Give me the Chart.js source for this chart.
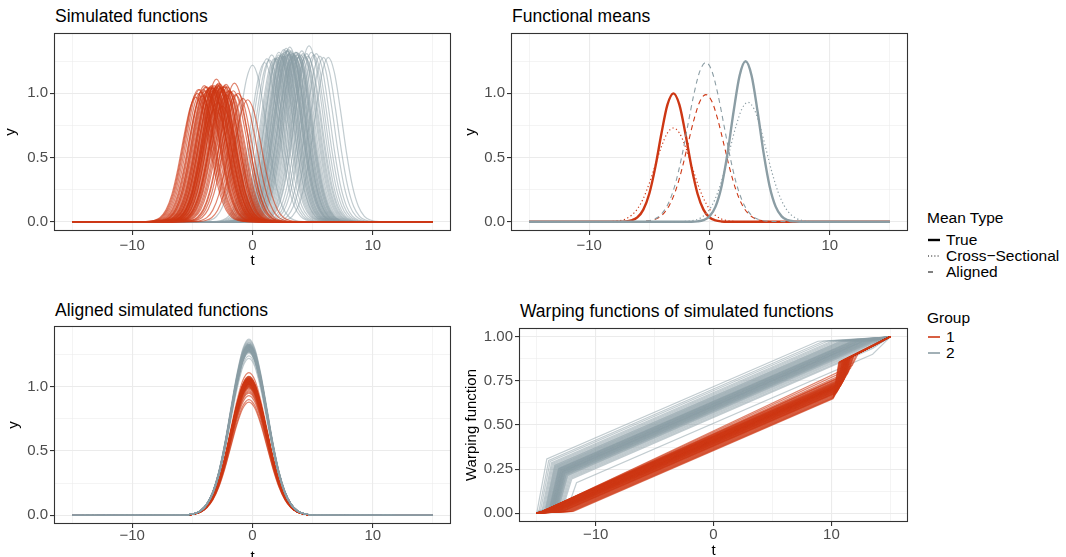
<!DOCTYPE html>
<html>
<head>
<meta charset="utf-8">
<script src="https://cdn.jsdelivr.net/npm/chart.js@4.4.1/dist/chart.umd.min.js"></script>
<style>
  body { margin: 0; width: 1066px; height: 557px; overflow: hidden; background: #fff; position: relative;
         font-family: "Liberation Sans", Arial, sans-serif; }
  canvas { position: absolute; }
  .ttl { position: absolute; font-size: 17.5px; line-height: 20px; color: #000; white-space: nowrap; }
  .lg { position: absolute; left: 927px; font-size: 15.5px; line-height: 18px; color: #000; white-space: nowrap; }
  .lg svg { position: absolute; left: 0; top: 7px; }
  .lg span { position: absolute; left: 19px; }
</style>
</head>
<body>
<div class="ttl" style="left:55px;top:6px">Simulated functions</div>
<div class="ttl" style="left:512px;top:6px">Functional means</div>
<div class="ttl" style="left:55px;top:300px">Aligned simulated functions</div>
<div class="ttl" style="left:520px;top:301px">Warping functions of simulated functions</div>

<canvas id="sim" width="460" height="278" style="left:0;top:0"></canvas>
<canvas id="means" width="460" height="278" style="left:460px;top:0"></canvas>
<canvas id="aligned" width="460" height="300" style="left:0;top:278px"></canvas>
<canvas id="warp" width="460" height="300" style="left:460px;top:278px"></canvas>

<div class="lg" style="top:209px">Mean Type</div>
<div class="lg" style="top:231px"><svg width="14" height="4"><line x1="1" y1="2" x2="13" y2="2" stroke="#000" stroke-width="2.4"/></svg><span>True</span></div>
<div class="lg" style="top:247px"><svg width="14" height="4"><line x1="1" y1="2" x2="13" y2="2" stroke="#000" stroke-width="1" stroke-dasharray="1 2.2"/></svg><span>Cross−Sectional</span></div>
<div class="lg" style="top:263px"><svg width="14" height="4"><line x1="1" y1="2" x2="13" y2="2" stroke="#000" stroke-width="1" stroke-dasharray="5 8"/></svg><span>Aligned</span></div>
<div class="lg" style="top:309px">Group</div>
<div class="lg" style="top:328px"><svg width="14" height="4"><line x1="1" y1="2" x2="13" y2="2" stroke="#CD3714" stroke-width="1.6"/></svg><span>1</span></div>
<div class="lg" style="top:344px"><svg width="14" height="4"><line x1="1" y1="2" x2="13" y2="2" stroke="#8B9DA4" stroke-width="1.6"/></svg><span>2</span></div>

<script>
const FONT = '"Liberation Sans", Arial, sans-serif';
const RED = '#CD3714';
const GREY = '#8B9DA4';
const RED_FAINT = 'rgba(205,55,20,0.62)';
const GREY_FAINT = 'rgba(139,157,164,0.52)';

// axis ticks (empty label = minor grid line only)
const xTicks = [-15, -10, -5, 0, 5, 10, 15];
const xTickLabels = ['', '−10', '', '0', '', '10', ''];
const yTicks = [0, 0.25, 0.5, 0.75, 1, 1.25];
const yTickLabels = ['0.0', '', '0.5', '', '1.0', ''];
const warpTicks = [0, 0.125, 0.25, 0.375, 0.5, 0.625, 0.75, 0.875, 1];
const warpTickLabels = ['0.00', '', '0.25', '', '0.50', '', '0.75', '', '1.00'];

// shape of a single simulated bump (unit height) at offsets from its peak
const bumpOffset = [-5, -4.5, -4, -3.5, -3, -2.5, -2, -1.5, -1, -0.5, 0, 0.5, 1, 1.5, 2, 2.5, 3, 3.5, 4, 4.5, 5];
const bumpNarrow = [0, 0, 0.002, 0.01, 0.033, 0.094, 0.22, 0.427, 0.685, 0.91, 1, 0.91, 0.685, 0.427, 0.22, 0.094, 0.033, 0.01, 0.002, 0, 0];
// broader shape: aligned functions and the cross-sectional / aligned means
const wideOffset = [-5.5, -5, -4.5, -4, -3.5, -3, -2.5, -2, -1.5, -1, -0.5, 0, 0.5, 1, 1.5, 2, 2.5, 3, 3.5, 4, 4.5, 5, 5.5];
const bumpWide = [0.001, 0.004, 0.011, 0.028, 0.066, 0.135, 0.249, 0.411, 0.607, 0.8, 0.946, 1, 0.946, 0.8, 0.607, 0.411, 0.249, 0.135, 0.066, 0.028, 0.011, 0.004, 0.001];

// simulated functions: peak location and peak height, group 1
const redCenter = [
  -3.1, -2.4, -3.8, -2.9, -4.2, -3.3, -1.9, -2.7, -3.6, -3.0,
  -4.5, -2.2, -3.4, -2.6, -1.5, -3.9, -2.8, -3.2, -4.0, -2.5,
  -1.2, -3.5, -2.9, -3.7, -2.1, -4.7, -3.0, -2.3, -3.3, -1.8,
  -2.6, -4.1, -3.1, -2.0, -3.6, -2.8, -0.8, -3.4, -2.4, -4.3,
  -3.0, -2.7, -1.6, -3.8, -3.2, -2.5, -4.6, -2.9, -3.5, -2.2,
  -1.4, -3.1, -3.9, -2.6, -3.3, -0.4, -2.8, -4.4, -3.0, -2.3
];
const redPeak = [
  1.03, 1.05, 1.01, 1.06, 0.98, 1.04, 1.02, 1.07, 1.00, 1.05,
  1.03, 0.99, 1.06, 1.04, 1.08, 1.02, 1.05, 1.03, 1.06, 0.90,
  1.00, 1.04, 1.07, 1.03, 1.05, 0.97, 1.02, 1.06, 1.04, 1.01,
  1.05, 1.03, 0.88, 1.02, 1.04, 1.08, 0.96, 1.05, 1.03, 1.01,
  1.11, 1.04, 1.02, 1.05, 1.06, 1.03, 1.00, 0.93, 1.05, 1.07,
  0.99, 1.03, 1.05, 1.04, 1.02, 0.95, 1.06, 1.03, 1.04, 1.05
];
// group 2
const greyCenter = [
  3.0, 2.4, 3.6, 1.8, 4.2, 2.9, 3.3, 5.1, 2.6, 3.8,
  1.2, 3.1, 4.6, 2.2, 3.5, 2.8, 0.0, 3.9, 2.5, 4.4,
  3.2, 1.6, 2.7, 5.6, 3.4, 2.0, 3.7, 3.0, 4.9, 2.3,
  3.3, 6.3, 2.9, 1.4, 4.0, 3.6, 2.6, 5.3, 3.1, 2.1,
  4.3, 2.8, 3.5, 1.0, 3.8, 2.4, 4.7, 3.2, 2.7, 5.9,
  3.0, 1.9, 3.4, 4.1, 2.5, 3.7, 2.9, 4.5, 3.3, 2.2
];
const greyPeak = [
  1.30, 1.28, 1.32, 1.27, 1.31, 1.33, 1.29, 1.30, 1.34, 1.28,
  1.27, 1.31, 1.29, 1.32, 1.30, 1.35, 1.22, 1.29, 1.31, 1.28,
  1.33, 1.30, 1.32, 1.29, 1.31, 1.27, 1.30, 1.34, 1.32, 1.29,
  1.31, 1.28, 1.33, 1.26, 1.30, 1.32, 1.29, 1.31, 1.36, 1.28,
  1.30, 1.33, 1.29, 1.24, 1.31, 1.30, 1.37, 1.32, 1.29, 1.28,
  1.31, 1.27, 1.30, 1.33, 1.29, 1.32, 1.30, 1.31, 1.28, 1.30
];

// after alignment every function peaks here
const alignedPeakT = -0.3;

// functional means, [group 1, group 2]
const trueMeanCenter = [-3.0, 3.0];
const trueMeanPeak = [1.0, 1.25];
const crossMeanCenter = [-3.0, 3.2];
const crossMeanPeak = [0.73, 0.93];
const alignedMeanCenter = [-0.3, -0.3];
const alignedMeanPeak = [0.99, 1.24];

function bumpCurve(center, peak, offs, shape) {
  const pts = [{ x: -15, y: 0 }];
  offs.forEach((o, i) => {
    const x = center + o;
    if (x > -15 && x < 15) pts.push({ x, y: peak * shape[i] });
  });
  pts.push({ x: 15, y: 0 });
  return pts;
}

// warping function: middle section runs parallel to the identity, offset by the peak shift
function warpLine(t, d) { return 0.5 + 0.029 * t + 0.033 * d; }

function warpRed(c) {
  const d = c - alignedPeakT;
  const tS = Math.max(-14.5, Math.min(-11, (0.01 - 0.5 - 0.033 * d) / 0.029));
  const tT = 11.8 + 0.38 * d;
  const tE = tT + 0.5;
  return [{ x: -15, y: 0 }, { x: tS, y: 0.01 }, { x: tT, y: warpLine(tT, d) },
          { x: tE, y: 0.905 - (12.3 - tE) * 0.03 }, { x: 15, y: 1 }];
}

function warpGrey(c) {
  const d = c - alignedPeakT;
  const tK = -11.5 - 0.4 * d;
  const tC = Math.min(13.5, (0.975 - 0.5 - 0.033 * d) / 0.029);
  return [{ x: -15, y: 0 }, { x: tK - 0.8, y: 0.02 }, { x: tK, y: warpLine(tK, d) },
          { x: tC, y: warpLine(tC, d) }, { x: 15, y: 1 }];
}

function curveSet(list, color, width, extra) {
  return list.map(data => Object.assign({
    data, borderColor: color, borderWidth: width, pointRadius: 0,
    cubicInterpolationMode: 'monotone', fill: false
  }, extra || {}));
}

const panelBorder = {
  id: 'panelBorder',
  afterDraw(chart) {
    const { ctx, chartArea: a } = chart;
    ctx.save();
    ctx.strokeStyle = '#333333';
    ctx.lineWidth = 1.1;
    ctx.strokeRect(Math.round(a.left) + 0.5, Math.round(a.top) + 0.5,
                   Math.round(a.right - a.left) - 1, Math.round(a.bottom - a.top) - 1);
    ctx.restore();
  }
};

function gridOpts(labels) {
  return {
    color: '#EBEBEB',
    lineWidth: c => (labels[c.index] ? 1.1 : 0.55),
    tickColor: c => (labels[c.index] ? '#333333' : 'rgba(0,0,0,0)'),
    tickWidth: 1.1,
    tickLength: 4,
    drawTicks: true
  };
}

function xAxis(height, labelPad, titlePad) {
  return {
    type: 'linear', min: -16.5, max: 16.5,
    afterBuildTicks: s => { s.ticks = xTicks.map(v => ({ value: v })); },
    afterFit: s => { s.height = height; },
    ticks: {
      autoSkip: false, maxRotation: 0, padding: labelPad, color: '#4D4D4D',
      font: { size: 15, family: FONT, lineHeight: 1 },
      callback: (v, i) => xTickLabels[i]
    },
    grid: gridOpts(xTickLabels),
    border: { display: false },
    title: { display: true, text: 't', color: '#000', font: { size: 15, family: FONT },
             padding: { top: 0, bottom: titlePad } }
  };
}

function yAxis(width, min, max, ticks, labels, title, titlePad) {
  return {
    type: 'linear', min, max,
    afterBuildTicks: s => { s.ticks = ticks.map(v => ({ value: v })); },
    afterFit: s => { s.width = width; },
    ticks: {
      autoSkip: false, padding: 2, color: '#4D4D4D',
      font: { size: 15, family: FONT, lineHeight: 1 },
      callback: (v, i) => labels[i]
    },
    grid: gridOpts(labels),
    border: { display: false },
    title: { display: true, text: title, color: '#000', font: { size: 15, family: FONT },
             padding: { top: titlePad, bottom: 0 } }
  };
}

function makeChart(id, datasets, padding, x, y) {
  return new Chart(document.getElementById(id), {
    type: 'line',
    data: { datasets },
    options: {
      responsive: false, animation: false, events: [],
      layout: { padding },
      plugins: { legend: { display: false }, tooltip: { enabled: false }, title: { display: false } },
      scales: { x, y }
    },
    plugins: [panelBorder]
  });
}

// Simulated functions
const simRed = redCenter.map((c, i) => bumpCurve(c, redPeak[i], bumpOffset, bumpNarrow));
const simGrey = greyCenter.map((c, i) => bumpCurve(c, greyPeak[i], bumpOffset, bumpNarrow));
makeChart('sim',
  [...curveSet(simRed, RED_FAINT, 1.2), ...curveSet(simGrey, GREY_FAINT, 1.2)],
  { top: 33, right: 9, left: 0, bottom: 0 },
  xAxis(47, 3.5, 8),
  yAxis(54, -0.0725, 1.47, yTicks, yTickLabels, 'y', 2));

// Functional means
const groupColor = [RED, GREY];
const meanSets = [];
[1, 0].forEach(g => {
  meanSets.push(...curveSet([bumpCurve(crossMeanCenter[g], crossMeanPeak[g], wideOffset, bumpWide)],
    groupColor[g], 1.2, { borderDash: [1.2, 2.6] }));
  meanSets.push(...curveSet([bumpCurve(trueMeanCenter[g], trueMeanPeak[g], bumpOffset, bumpNarrow)],
    groupColor[g], 2.4));
  meanSets.push(...curveSet([bumpCurve(alignedMeanCenter[g], alignedMeanPeak[g], wideOffset, bumpWide)],
    groupColor[g], 1.1, { borderDash: [5, 4] }));
});
makeChart('means', meanSets,
  { top: 33, right: 12, left: 0, bottom: 0 },
  xAxis(47, 3.5, 8),
  yAxis(51, -0.0725, 1.47, yTicks, yTickLabels, 'y', 2));

// Aligned simulated functions
const alRed = redPeak.map(h => bumpCurve(alignedPeakT, h, wideOffset, bumpWide));
const alGrey = greyPeak.map(h => bumpCurve(alignedPeakT, h, wideOffset, bumpWide));
makeChart('aligned',
  [...curveSet(alGrey, GREY_FAINT, 1.2), ...curveSet(alRed, RED_FAINT, 1.2)],
  { top: 48, right: 9, left: 0, bottom: 0 },
  xAxis(54, 0.5, 12),
  yAxis(54, -0.068, 1.472, yTicks, yTickLabels, 'y', 5));

// Warping functions
const wRed = redCenter.map(warpRed);
const wGrey = greyCenter.map(warpGrey);
makeChart('warp',
  [...curveSet(wRed, RED_FAINT, 1.2, { cubicInterpolationMode: 'default', tension: 0 }),
   ...curveSet(wGrey, GREY_FAINT, 1.2, { cubicInterpolationMode: 'default', tension: 0 })],
  { top: 50, right: 12, left: 0, bottom: 0 },
  xAxis(56, 1.5, 18),
  yAxis(59, -0.05, 1.05, warpTicks, warpTickLabels, 'Warping function', 3));
</script>
</body>
</html>
